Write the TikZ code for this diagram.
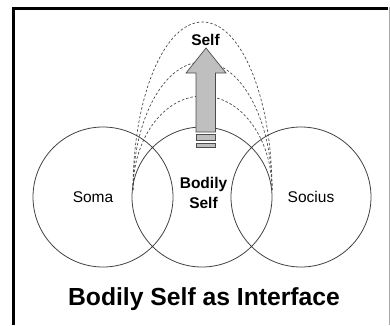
\documentclass[tikz,border=0pt]{standalone}
\usepackage{fontspec}
\setmainfont{Liberation Sans}
\begin{document}
\begin{tikzpicture}[x=1pt,y=1pt,
	ring/.style={draw=black!75,line width=0.8pt},
	loop/.style={draw=black!70,line width=0.7pt,dash pattern=on 2.5pt off 2pt},
	word/.style={font=\fontsize{15.5}{20}\selectfont,align=center,inner sep=0pt}]
			
			\useasboundingbox (0,0) rectangle (390,325);
			
			% frame, thick on left and top
			\draw[line width=3pt] (13.5,0) -- (13.5,317) -- (388,317);
			\draw[black!35,line width=0.8pt] (389,318) -- (389,0);
			
			% dashed loops over the bodily self
			\draw[loop] (133,135) arc[start angle=180,end angle=0,x radius=69.5,y radius=168];
			\draw[loop] (133,135) arc[start angle=180,end angle=0,x radius=69.5,y radius=128];
			\draw[loop] (133,135) arc[start angle=180,end angle=0,x radius=69.5,y radius=94];
			
			% three circles
			\draw[ring] (103,128) circle (70);
			\draw[ring] (202,128) circle (70);
			\draw[ring] (301,128) circle (70);
			
			% big arrow up to the self
			\draw[black!70,fill=black!25,line width=0.7pt] (196,193) -- (196,252) -- (186,252) -- (206,277)
				-- (226,252) -- (215.5,252) -- (215.5,193) -- cycle;
			\draw[black!70,fill=black!25,line width=0.7pt] (196,185) rectangle (215.5,191);
			\draw[black!70,fill=black!25,line width=0.7pt] (196,178) rectangle (215.5,182);
			
			% labels
			\node[word] (soma) at (93,128) {Soma};
			\node[word] (socius) at (311,128) {Socius};
			\node[word,font=\fontsize{15.5}{20}\selectfont\bfseries] (body) at (203.5,132) {Bodily\\Self};
			\node[word,font=\fontsize{15.5}{20}\selectfont\bfseries] (self) at (205.5,285) {Self};
			\node[font=\fontsize{24.7}{30}\selectfont\bfseries,inner sep=0pt] (title) at (204,26) {Bodily Self as Interface};
			
\end{tikzpicture}
\end{document}
